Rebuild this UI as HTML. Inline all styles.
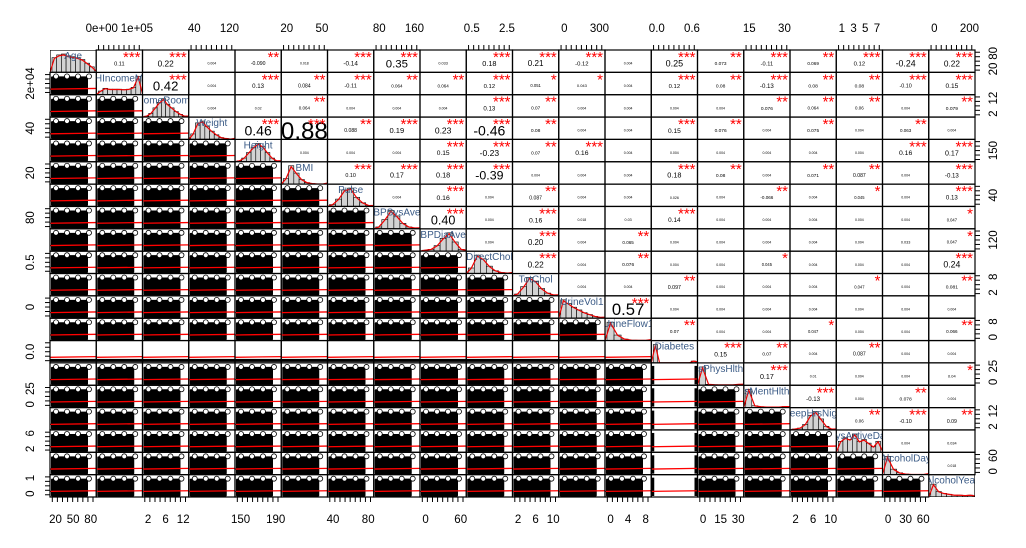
<!DOCTYPE html>
<html><head><meta charset="utf-8"><style>
html,body{margin:0;padding:0;background:#fff;}
svg{display:block;font-family:"Liberation Sans",sans-serif;}
</style></head><body>
<svg id="chart" width="1026" height="548" viewBox="0 0 1026 548" xmlns="http://www.w3.org/2000/svg"><defs id="defs"></defs></svg>
<script>
const variables = ["Age","HHIncomeMid","HomeRooms","Weight","Height","BMI","Pulse","BPSysAve","BPDiaAve","DirectChol","TotChol","UrineVol1","UrineFlow1","Diabetes","DaysPhysHlthBad","DaysMentHlthBad","SleepHrsNight","PhysActiveDays","AlcoholDay","AlcoholYear"];
const corrRows = [
 [0.11,0.22,0.00,-0.09,0.018,-0.14,0.35,0.033,0.18,0.21,-0.12,0.00,0.25,0.073,-0.11,0.069,0.12,-0.24,0.22],
 [0.42,0.00,0.13,0.084,-0.11,0.064,0.064,0.12,0.051,0.043,0.00,0.12,0.08,-0.13,0.080,0.08,-0.10,0.15],
 [0.00,0.02,0.064,0.00,0.00,0.00,0.13,0.07,0.00,0.00,0.00,0.00,0.076,0.064,0.06,0.00,0.079,0.06],
 [0.46,0.88,0.088,0.19,0.23,-0.46,0.08,0.00,0.00,0.15,0.076,0.00,0.075,0.00,0.063,0.00],
 [0.00,0.00,0.00,0.15,-0.23,0.07,0.16,0.00,0.00,0.00,0.00,0.00,0.00,0.16,0.17],
 [0.10,0.17,0.18,-0.39,0.00,0.00,0.00,0.18,0.08,0.00,0.071,0.087,0.00,-0.13],
 [0.00,0.16,0.00,0.087,0.00,0.00,0.026,0.00,-0.066,0.00,0.045,0.00,0.13],
 [0.40,0.00,0.16,0.018,0.03,0.14,0.00,0.00,0.00,0.00,0.00,0.047],
 [0.00,0.20,0.00,0.065,0.00,0.00,0.00,0.00,0.00,0.033,0.047],
 [0.22,0.00,0.076,0.00,0.00,0.045,0.00,0.00,0.00,0.24],
 [0.00,0.00,0.097,0.00,0.00,0.00,0.047,0.00,0.081],
 [0.57,0.00,0.00,0.00,0.00,0.00,0.00,0.00],
 [0.07,0.00,0.00,0.047,0.00,0.00,0.066],
 [0.15,0.07,0.00,0.087,0.00,0.00],
 [0.17,0.01,0.00,0.00,0.04],
 [-0.13,0.00,0.078,0.00],
 [0.06,-0.10,0.09],
 [0.00,0.034],
 [0.018]
];
const histHeights = [
 [0.8,0.95,1,0.9,0.85,0.8,0.7,0.5,0.3],
 [0.2,0.35,0.3,0.3,0.3,0.28,0.3,0.4,1],
 [0.05,0.2,0.5,0.8,1,0.7,0.5,0.3,0.15,0.05],
 [0.3,0.9,1,0.7,0.45,0.25,0.1,0.05,0.02],
 [0.05,0.2,0.5,0.8,1,0.85,0.5,0.2,0.05],
 [0.3,1,0.6,0.25,0.08,0.03,0.01,0.01],
 [0.1,0.4,0.9,1,0.5,0.2,0.05],
 [0.1,0.5,1,0.7,0.3,0.1,0.05],
 [0.05,0.1,0.3,0.7,1,0.5,0.1],
 [0.3,1,0.8,0.4,0.15,0.05,0.02],
 [0.1,0.5,1,0.8,0.4,0.15,0.05],
 [1,0.8,0.6,0.45,0.3,0.2,0.1,0.05],
 [1,0.3,0.08,0.02,0.01,0.01],
 [1,0,0,0,0,0,0,0,0,0.1],
 [1,0.05,0.03,0.02,0.02,0.02,0.05],
 [1,0.1,0.05,0.03,0.03,0.03,0.06],
 [0.05,0.1,0.3,0.8,1,0.6,0.2,0.05],
 [0.6,0.8,0.7,1,0.6,0.7,0.5,0.3,0.6],
 [1,0.3,0.1,0.03,0.01,0.01,0.01],
 [0.7,0.3,0.2,0.15,0.1,0.1,0.08,0.1]
];
const topTicks = [[1,["0e+00","1e+05"]],[3,["40","120"]],[5,["20","50"]],[7,["80","160"]],[9,["0.5","2.5"]],[11,["0","300"]],[13,["0.0","0.6"]],[15,["15","30"]],[17,["1","3","5","7"]],[19,["0","200"]]];
const bottomTicks = [[0,["20","50","80"]],[2,["2","6","12"]],[4,["150","190"]],[6,["40","80"]],[8,["0","60"]],[10,["2","6","10"]],[12,["0","4","8"]],[14,["0","15","30"]],[16,["2","6","10"]],[18,["0","30","60"]]];
const leftTicks = [[1,["2e+04"]],[3,["40"]],[5,["20"]],[7,["80"]],[9,["0.5"]],[11,["0"]],[13,["0.0"]],[15,["0","25"]],[17,["2","6"]],[19,["0","1"]]];
const rightTicks = [[0,["20","80"]],[2,["2","12"]],[4,["150"]],[6,["40"]],[8,["120"]],[10,["2","8"]],[12,["0","8"]],[14,["0","25"]],[16,["2","12"]],[18,["0","60"]]];

const NS="http://www.w3.org/2000/svg";
const svg=document.getElementById('chart');
const defs=document.getElementById('defs');
const X0=50,Y0=50,CW=46.25,RH=22.35,N=20;
const cx=i=>X0+i*CW, ry=i=>Y0+i*RH;
function mk(tag,attrs,parent){const e=document.createElementNS(NS,tag);for(const k in attrs)e.setAttribute(k,attrs[k]);(parent||svg).appendChild(e);return e;}

for(let i=0;i<N;i++){for(let j=0;j<N;j++){
  const g=mk('g',{});
  const x=cx(j),y=ry(i);
  if(i===j){
    
    
    const cp=mk('clipPath',{id:'cp'+i},defs);mk('rect',{x:x,y:y,width:CW,height:RH},cp);
    g.setAttribute('clip-path','url(#cp'+i+')');
    const h=histHeights[i],bw=(CW-4)/h.length;
    let pts=[];
    h.forEach((v,k)=>{const bh=v*(RH-4);mk('rect',{x:x+2+k*bw,y:y+RH-bh,width:bw,height:bh,fill:'#d3d3d3',stroke:'#000','stroke-width':0.6},g);pts.push((x+2+(k+0.5)*bw)+','+(y+RH-bh*0.95));});
    pts.unshift((x)+','+(y+RH));pts.push((x+CW)+','+(y+RH-1));
    mk('polyline',{points:pts.join(' '),fill:'none',stroke:'#e00','stroke-width':1.2},g);
    const t=mk('text',{x:x+CW/2,y:y+9,'font-size':10,fill:'#3b5b86','text-anchor':'middle'},g);t.textContent=variables[i];
  } else if(j>i){
    const r=corrRows[i][j-i-1];
    
    
    const a=Math.abs(r);
    const fs=Math.max(3.5,3+24*a);
    const txt=a===0?'0.004':r.toFixed(a<0.1&&String(r).length>4?3:2);
    const t=mk('text',{x:x+CW/2,y:y+RH*0.6+fs*0.35,'font-size':fs,fill:'#000','text-anchor':'middle'},g);t.textContent=txt;
    const stars=a>=0.1?'***':a>=0.06?'**':a>=0.04?'*':'';
    if(stars){const s=mk('text',{x:x+CW-2,y:y+12,'font-size':15,fill:'#f00','text-anchor':'end'},g);s.textContent=stars;}
  } else {
    
    
    if(i===13){mk('rect',{x:x,y:y+RH-4,width:CW,height:3,fill:'#000'},g);}
    else if(j===13){mk('rect',{x:x,y:y+3,width:3,height:RH-4,fill:'#000'},g);mk('rect',{x:x+CW-3,y:y+3,width:3,height:RH-4,fill:'#000'},g);}
    else{
      mk('rect',{x:x+1,y:y+RH*0.18,width:CW*0.8,height:RH*0.8,rx:1,fill:'#000'},g);
      for(let k=0;k<4;k++)mk('circle',{cx:x+6+k*11,cy:y+RH*0.18,r:2.5,fill:'#fff',stroke:'#000','stroke-width':0.8},g);
    }
    let y1=y+RH*0.75,y2=y+RH*0.72;
    if(i===3&&j===5){y1=y+RH*0.9;y2=y+RH*0.1;}
    mk('line',{x1:x,y1:y1,x2:x+CW,y2:y2,stroke:'#f00','stroke-width':1.3},g);
  }
  mk('rect',{x:x,y:y,width:CW,height:RH,fill:'none',stroke:'#000','stroke-width':1.2},g);
}}
function axisText(x,y,s,rot){const t=mk('text',{x:x,y:y,'font-size':11.5,fill:'#000','text-anchor':'middle',transform:rot?`rotate(-90 ${x} ${y})`:''});t.textContent=s;}
function ticksH(list,yLine,dir,yText){list.forEach(([c,labs])=>{const n=labs.length;for(let k=0;k<n;k++){const x=cx(c)+CW*(0.12+0.76*(n===1?0.5:k/(n-1)));axisText(x,yText,labs[k]);}for(let k=0;k<=8;k++){const x=cx(c)+CW*(0.05+k*0.11);mk('line',{x1:x,y1:yLine,x2:x,y2:yLine+dir*5,stroke:'#000','stroke-width':1});}});}
ticksH(topTicks,Y0,-1,Y0-18);
ticksH(bottomTicks,ry(N),1,ry(N)+26);
function ticksV(list,xLine,dir,xText){list.forEach(([r,labs])=>{const n=labs.length;for(let k=0;k<n;k++){const y=ry(r)+RH*(n===1?0.5:0.85-0.7*k/(n-1));axisText(xText,y,labs[k],true);}for(let k=0;k<=4;k++){const y=ry(r)+RH*(0.1+k*0.2);mk('line',{x1:xLine,y1:y,x2:xLine+dir*5,y2:y,stroke:'#000','stroke-width':1});}});}
ticksV(leftTicks,X0,-1,X0-16);
ticksV(rightTicks,cx(N),1,cx(N)+22);
</script>
</body></html>
